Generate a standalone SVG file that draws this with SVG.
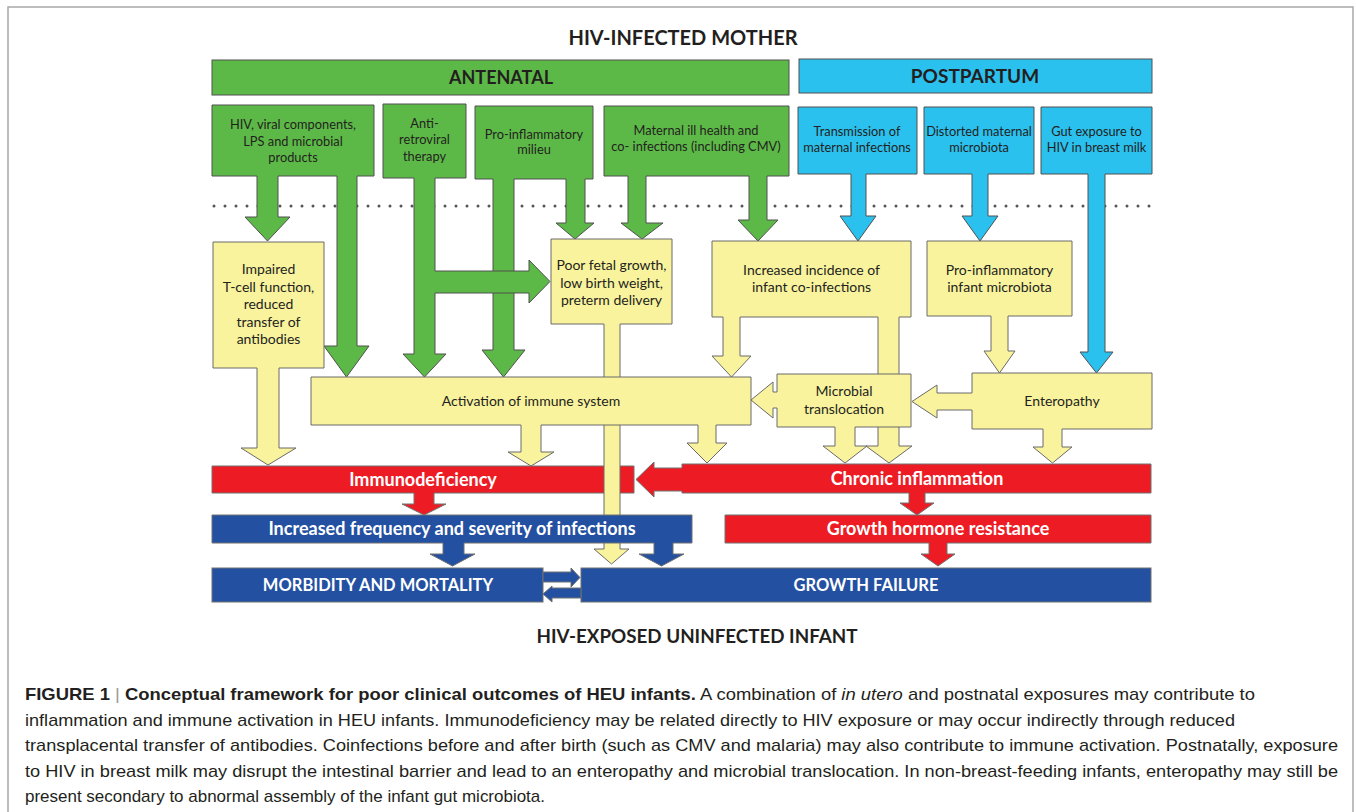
<svg xmlns="http://www.w3.org/2000/svg" width="1356" height="812" viewBox="0 0 1356 812">
<style>
.g{fill:#5DB947;stroke:#505050;stroke-width:1}
.b{fill:#2BC1EF;stroke:#505050;stroke-width:1}
.y{fill:#F9F39E;stroke:#6a6a6a;stroke-width:1}
.r{fill:#ED1C24;stroke:#707070;stroke-width:1}
.d{fill:#2350A1;stroke:#707070;stroke-width:1}
.t{font-family:Lato,"Open Sans","Liberation Sans",sans-serif;fill:#231F20;text-anchor:middle}
.s{font-size:12.8px}
.m{font-size:14px}
.w{font-family:Lato,"Open Sans","Liberation Sans",sans-serif;fill:#fff;font-weight:700;text-anchor:middle;font-size:18px}
.u{font-size:16.5px}
.h{font-family:Lato,"Open Sans","Liberation Sans",sans-serif;fill:#231F20;font-weight:700;text-anchor:middle}
.c{font-family:"Liberation Sans",Arial,sans-serif;fill:#231F20;font-size:17px}
</style>
<rect x="0" y="0" width="1356" height="812" fill="#fff"/>
<rect x="8" y="7" width="1345" height="830" fill="none" stroke="#a8a8a8" stroke-width="1.5"/>

<text class="h" x="683" y="45" font-size="20">HIV-INFECTED MOTHER</text>

<g id="antenatal"><rect class="g" x="212" y="60" width="577" height="35"/><text class="h" x="501" y="84" font-size="18">ANTENATAL</text></g>
<g id="postpartum"><rect class="b" x="799" y="59" width="353" height="34"/><text class="h" x="975" y="83" font-size="19">POSTPARTUM</text></g>

<line x1="214" y1="206" x2="1157" y2="206" stroke="#555" stroke-width="3" stroke-linecap="round" stroke-dasharray="0 11"/>

<g id="immunodeficiency"><path class="r" d="M212,466 H634 V493 H434 V504 H446 L424,515 L402,504 H414 V493 H212 Z"/><text class="w" x="423" y="486">Immunodeficiency</text></g>
<g id="chronic"><path class="r" d="M682,464 H1151 V493 H925 V503 H934 L917,515 L900,503 H909 V493 H682 V491 H654 V497 L636,479.5 L654,462 V468 H682 Z"/><text class="w" x="917" y="485">Chronic inflammation</text></g>
<g id="ghr"><path class="r" d="M725,515 H1151 V543 H947 V554 H955 L938,566 L921,554 H929 V543 H725 Z"/><text class="w" x="938" y="535">Growth hormone resistance</text></g>
<g id="morbidity"><rect class="d" x="212" y="568" width="331" height="34"/><text class="w u" x="378" y="591">MORBIDITY AND MORTALITY</text></g>
<g id="growthfailure"><rect class="d" x="581" y="568" width="570" height="34"/><text class="w u" x="866" y="591">GROWTH FAILURE</text></g>
<g id="connectors">
<path class="d" d="M543,572 H571 V568 L580,577.5 L571,587 V582 H543 Z"/>
<path class="d" d="M581,588 H552 V586 L543,594 L552,602 V598 H581 Z"/>
</g>

<g id="g4"><path class="g" d="M604,106 H789 V176 H767 V220 H778 L758,241 L738,220 H749 V176 H646 V223 H663 L642,239 L621,223 H628 V176 H604 Z"/>
<text class="t s" x="696" y="135">Maternal ill health and</text><text class="t s" x="696" y="151">co- infections (including CMV)</text></g>
<g id="g3"><path class="g" d="M475,106 H593 V179 H585 V223 H594 L575,239 L556,223 H566 V179 H514 V350 H525 L503.5,377 L482,350 H493 V179 H475 Z"/>
<text class="t s" x="534" y="139">Pro-inflammatory</text><text class="t s" x="534" y="154">milieu</text></g>
<g id="g2"><path class="g" d="M383,104 H466 V178 H435 V271 H529 V260 L550,281.5 L529,303 V293 H435 V354 H446 L424.5,377 L403,354 H414 V178 H383 Z"/>
<text class="t s" x="424.5" y="128">Anti-</text><text class="t s" x="424.5" y="144">retroviral</text><text class="t s" x="424.5" y="161">therapy</text></g>
<g id="g1"><path class="g" d="M212,105 H374 V176 H357 V346 H369 L346.5,377 L324,346 H337 V176 H278 V217 H290 L267.5,241 L245,217 H257 V176 H212 Z"/>
<text class="t s" x="293" y="129">HIV, viral components,</text><text class="t s" x="293" y="146">LPS and microbial</text><text class="t s" x="293" y="162">products</text></g>

<g id="b1"><path class="b" d="M798,107 H917 V174 H866 V216 H876 L858,241 L840,216 H851 V174 H798 Z"/>
<text class="t s" x="857" y="136">Transmission of</text><text class="t s" x="857" y="152">maternal infections</text></g>
<g id="b2"><path class="b" d="M924,107 H1034 V174 H988 V216 H998 L980,241 L962,216 H972 V174 H924 Z"/>
<text class="t s" x="979" y="136">Distorted maternal</text><text class="t s" x="979" y="152">microbiota</text></g>
<g id="b3"><path class="b" d="M1041,107 H1152 V174 H1105 V352 H1113 L1096.5,373 L1080,352 H1088 V174 H1041 Z"/>
<text class="t s" x="1096.5" y="136">Gut exposure to</text><text class="t s" x="1096.5" y="152">HIV in breast milk</text></g>

<g id="impaired"><path class="y" d="M213,242 H324 V368 H279 V448 H296 L268,465 L241,448 H257 V368 H213 Z"/>
<text class="t m" x="268.5" y="274">Impaired</text><text class="t m" x="268.5" y="292">T-cell function,</text><text class="t m" x="268.5" y="309">reduced</text><text class="t m" x="268.5" y="327">transfer of</text><text class="t m" x="268.5" y="344">antibodies</text></g>
<g id="poorfetal"><path class="y" d="M551,239 H672 V324 H620 V549 H629 L611.5,564 L594,549 H604 V324 H551 Z"/>
<text class="t m" x="611.5" y="270">Poor fetal growth,</text><text class="t m" x="611.5" y="288">low birth weight,</text><text class="t m" x="611.5" y="305">preterm delivery</text></g>
<g id="infections"><path class="d" d="M212,515 H692 V543 H673 V554 H684 L661.5,566 L639,554 H654 V543 H464 V554 H475 L452.5,566 L430,554 H443 V543 H212 Z"/><text class="w" x="452" y="535">Increased frequency and severity of infections</text></g>
<g id="incidence"><path class="y" d="M712,241 H911 V317 H899 V446 H912 L889,463 L866,446 H878 V317 H740 V356 H751 L731.5,377 L712,356 H723 V317 H712 Z"/>
<text class="t m" x="811.5" y="275">Increased incidence of</text><text class="t m" x="811.5" y="292">infant co-infections</text></g>
<g id="microbiota"><path class="y" d="M927,241 H1072 V316 H1008 V351 H1015 L999.5,373 L984,351 H991 V316 H927 Z"/>
<text class="t m" x="999.5" y="275">Pro-inflammatory</text><text class="t m" x="999.5" y="292">infant microbiota</text></g>
<g id="activation"><path class="y" d="M311,377 H751 V425 H716 V443 H727 L707,463 L687,443 H698 V425 H541 V452 H554 L531,466 L508,452 H521 V425 H311 Z"/>
<text class="t m" x="531" y="406">Activation of immune system</text></g>
<g id="translocation"><path class="y" d="M777,374 H911 V427 H855 V446 H867 L845,463 L823,446 H835 V427 H777 V408 H773 V418 L751,400 L773,382 V392 H777 Z"/>
<text class="t m" x="844" y="396">Microbial</text><text class="t m" x="844" y="414">translocation</text></g>
<g id="enteropathy"><path class="y" d="M972,373 H1152 V429 H1062 V447 H1072 L1052.5,463 L1033,447 H1043 V429 H972 V410 H937 V418 L912,401.5 L937,385 V393 H972 Z"/>
<text class="t m" x="1062" y="406">Enteropathy</text></g>

<text class="h" x="697" y="643" font-size="18.8">HIV-EXPOSED UNINFECTED INFANT</text>

<g id="caption">
<text class="c" x="25" y="700" textLength="1230" lengthAdjust="spacingAndGlyphs"><tspan font-weight="700">FIGURE 1</tspan><tspan fill="#999"> | </tspan><tspan font-weight="700">Conceptual framework for poor clinical outcomes of HEU infants.</tspan> A combination of <tspan font-style="italic">in utero</tspan> and postnatal exposures may contribute to</text>
<text class="c" x="25" y="726" textLength="1210" lengthAdjust="spacingAndGlyphs">inflammation and immune activation in HEU infants. Immunodeficiency may be related directly to HIV exposure or may occur indirectly through reduced</text>
<text class="c" x="25" y="751" textLength="1313" lengthAdjust="spacingAndGlyphs">transplacental transfer of antibodies. Coinfections before and after birth (such as CMV and malaria) may also contribute to immune activation. Postnatally, exposure</text>
<text class="c" x="25" y="777" textLength="1313" lengthAdjust="spacingAndGlyphs">to HIV in breast milk may disrupt the intestinal barrier and lead to an enteropathy and microbial translocation. In non-breast-feeding infants, enteropathy may still be</text>
<text class="c" x="25" y="802" textLength="520" lengthAdjust="spacingAndGlyphs">present secondary to abnormal assembly of the infant gut microbiota.</text>
</g>
</svg>
